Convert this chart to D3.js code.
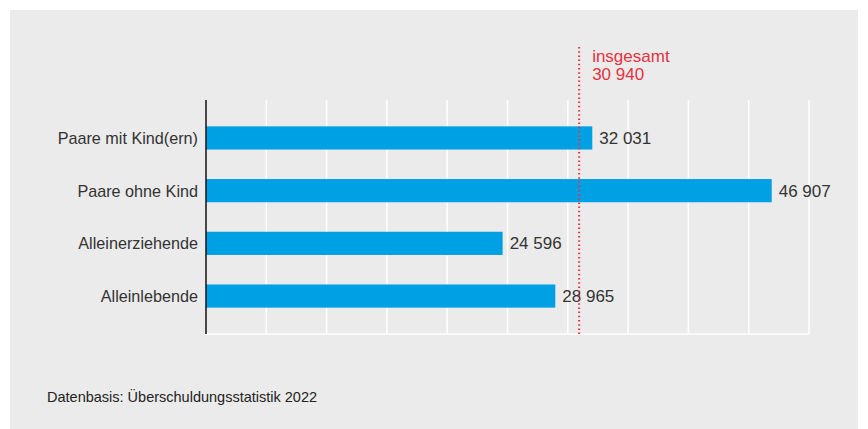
<!DOCTYPE html>
<html>
<head>
<meta charset="utf-8">
<script src="https://cdn.jsdelivr.net/npm/d3@7"></script>
<style>
  body { margin: 0; background: #fff; }
  svg text { font-family: "Liberation Sans", Arial, sans-serif; }
</style>
</head>
<body>
<div class="graph"></div>
<script>
// data
const categories = ["Paare mit Kind(ern)", "Paare ohne Kind", "Alleinerziehende", "Alleinlebende"];
const values = [32031, 46907, 24596, 28965];
const total_value = 30940;
const total_label = ["insgesamt", "30 940"];
const x_ticks = [0, 5000, 10000, 15000, 20000, 25000, 30000, 35000, 40000, 45000, 50000];
const source_note = "Datenbasis: Überschuldungsstatistik 2022";

const svg_dimensions = { width: 868, height: 429 };
const plot = { left: 206, right: 809, top: 100, bottom: 334 };

const fmt = (v) => d3.format(",")(v).replace(/,/g, " ");

let svg = d3.select(".graph").append("svg")
    .attr("width", svg_dimensions.width)
    .attr("height", svg_dimensions.height);

// grey panel
svg.append("rect")
    .attr("x", 10).attr("y", 10)
    .attr("width", 848).attr("height", 419)
    .attr("fill", "#ebebeb");

let x = d3.scaleLinear().domain([0, 50000]).range([plot.left, plot.right]);
let y = d3.scaleBand().domain(categories).range([plot.top, plot.bottom])
    .paddingInner(0.56).paddingOuter(0.5);

// vertical grid lines
svg.append("g").selectAll("line")
    .data(x_ticks.slice(1)).enter().append("line")
        .attr("x1", d => x(d)).attr("x2", d => x(d))
        .attr("y1", plot.top).attr("y2", plot.bottom)
        .attr("stroke", "#fff").attr("stroke-width", 1.5);

// bottom baseline
svg.append("line")
    .attr("x1", plot.left).attr("x2", x(50000))
    .attr("y1", plot.bottom).attr("y2", plot.bottom)
    .attr("stroke", "#fff").attr("stroke-width", 1.5);

// bars
svg.append("g").selectAll("rect")
    .data(values).enter().append("rect")
        .attr("x", x(0))
        .attr("y", (d, i) => y(categories[i]))
        .attr("width", d => x(d) - x(0))
        .attr("height", y.bandwidth())
        .attr("fill", "#00a0e4");

// y axis line
svg.append("line")
    .attr("x1", plot.left).attr("x2", plot.left)
    .attr("y1", plot.top).attr("y2", plot.bottom)
    .attr("stroke", "#111").attr("stroke-width", 1.5);

// category labels
svg.append("g").selectAll("text")
    .data(categories).enter().append("text")
        .attr("x", plot.left - 8)
        .attr("y", d => y(d) + y.bandwidth() / 2 + 6)
        .attr("text-anchor", "end")
        .attr("font-size", 16.2)
        .attr("fill", "#333")
        .text(d => d);

// value labels
svg.append("g").selectAll("text")
    .data(values).enter().append("text")
        .attr("x", d => x(d) + 7)
        .attr("y", (d, i) => y(categories[i]) + y.bandwidth() / 2 + 6)
        .attr("font-size", 17)
        .attr("fill", "#333")
        .text(d => fmt(d));

// total reference line
svg.append("line")
    .attr("x1", x(total_value)).attr("x2", x(total_value))
    .attr("y1", 47).attr("y2", plot.bottom)
    .attr("stroke", "#e5323f").attr("stroke-width", 2)
    .attr("stroke-dasharray", "1.5 2.7");

svg.append("g").selectAll("text")
    .data(total_label).enter().append("text")
        .attr("x", x(total_value) + 13)
        .attr("y", (d, i) => 62 + i * 18)
        .attr("font-size", 17)
        .attr("fill", "#e5323f")
        .text(d => d);

// source
svg.append("text")
    .attr("x", 47).attr("y", 402)
    .attr("font-size", 14.5)
    .attr("fill", "#222")
    .text(source_note);
</script>
</body>
</html>
